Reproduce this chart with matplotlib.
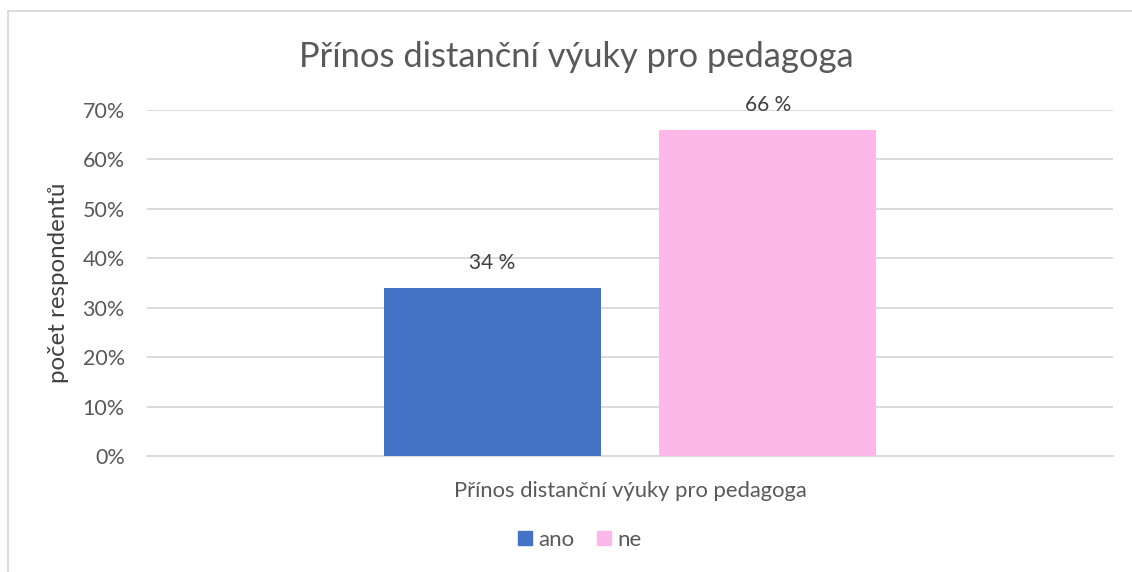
import matplotlib.pyplot as plt
from matplotlib.lines import Line2D
from matplotlib.patches import Patch

# data
kategorie = ["ano", "ne"]
hodnoty = [34, 66]
barvy = ["#4472c4", "#fbb8e8"]
osa_y = [0, 10, 20, 30, 40, 50, 60, 70]

plt.rcParams['font.family'] = ['Lato', 'DejaVu Sans']

W, H = 1132, 572
fig = plt.figure(figsize=(W / 100, H / 100), dpi=100)
ax = fig.add_axes([147 / W, 1 - 456 / H, (1113 - 147) / W, (456 - 110) / H])

sirka = 0.225
pozice = [-0.1425, 0.1425]
bars = ax.bar(pozice, hodnoty, width=sirka, color=barvy, zorder=3)
for x, v in zip(pozice, hodnoty):
    ax.text(x, v + 5.0, f"{v} %", ha="center", va="center", fontsize=15, color="#404040")

ax.set_xlim(-0.5, 0.5)
ax.set_ylim(0, 70)
ax.set_yticks(osa_y)
ax.set_yticklabels([f"{v}%" for v in osa_y], fontsize=15.5, color="#595959")
ax.set_xticks([0])
ax.set_xticklabels(["Přínos distanční výuky pro pedagoga"], fontsize=15.8, color="#595959")
ax.tick_params(axis="y", length=0, pad=16)
ax.tick_params(axis="x", length=0, pad=18)
ax.grid(axis="y", color="#d9d9d9", linewidth=1.3, zorder=0)
for s in ["top", "right", "left"]:
    ax.spines[s].set_visible(False)
ax.spines["bottom"].set_color("#d9d9d9")
ax.spines["bottom"].set_linewidth(1.3)

ax.set_ylabel("počet respondentů", fontsize=17.4, color="#404040",
              ha="center", va="center", rotation_mode="default")
ax.yaxis.set_label_coords(-0.092, 0.5)

fig.text(576 / W, 1 - 57 / H, "Přínos distanční výuky pro pedagoga", ha="center", va="center",
         fontsize=24.8, color="#595959")

handles = [Patch(color=c, label=k) for c, k in zip(barvy, kategorie)]
fig.legend(handles=handles, loc="center", bbox_to_anchor=(580 / W, 1 - 540 / H), ncol=2, frameon=False,
           fontsize=16, handlelength=0.62, handleheight=0.62, handletextpad=0.3, columnspacing=1.0,
           labelcolor="#595959")

# rámeček grafu
fig.add_artist(Line2D([8 / W, 8 / W], [0, 1 - 11 / H], color="#d9d9d9", linewidth=1.3))
fig.add_artist(Line2D([8 / W, 1], [1 - 11 / H, 1 - 11 / H], color="#d9d9d9", linewidth=1.3))

fig.savefig("out.png", dpi=100)
